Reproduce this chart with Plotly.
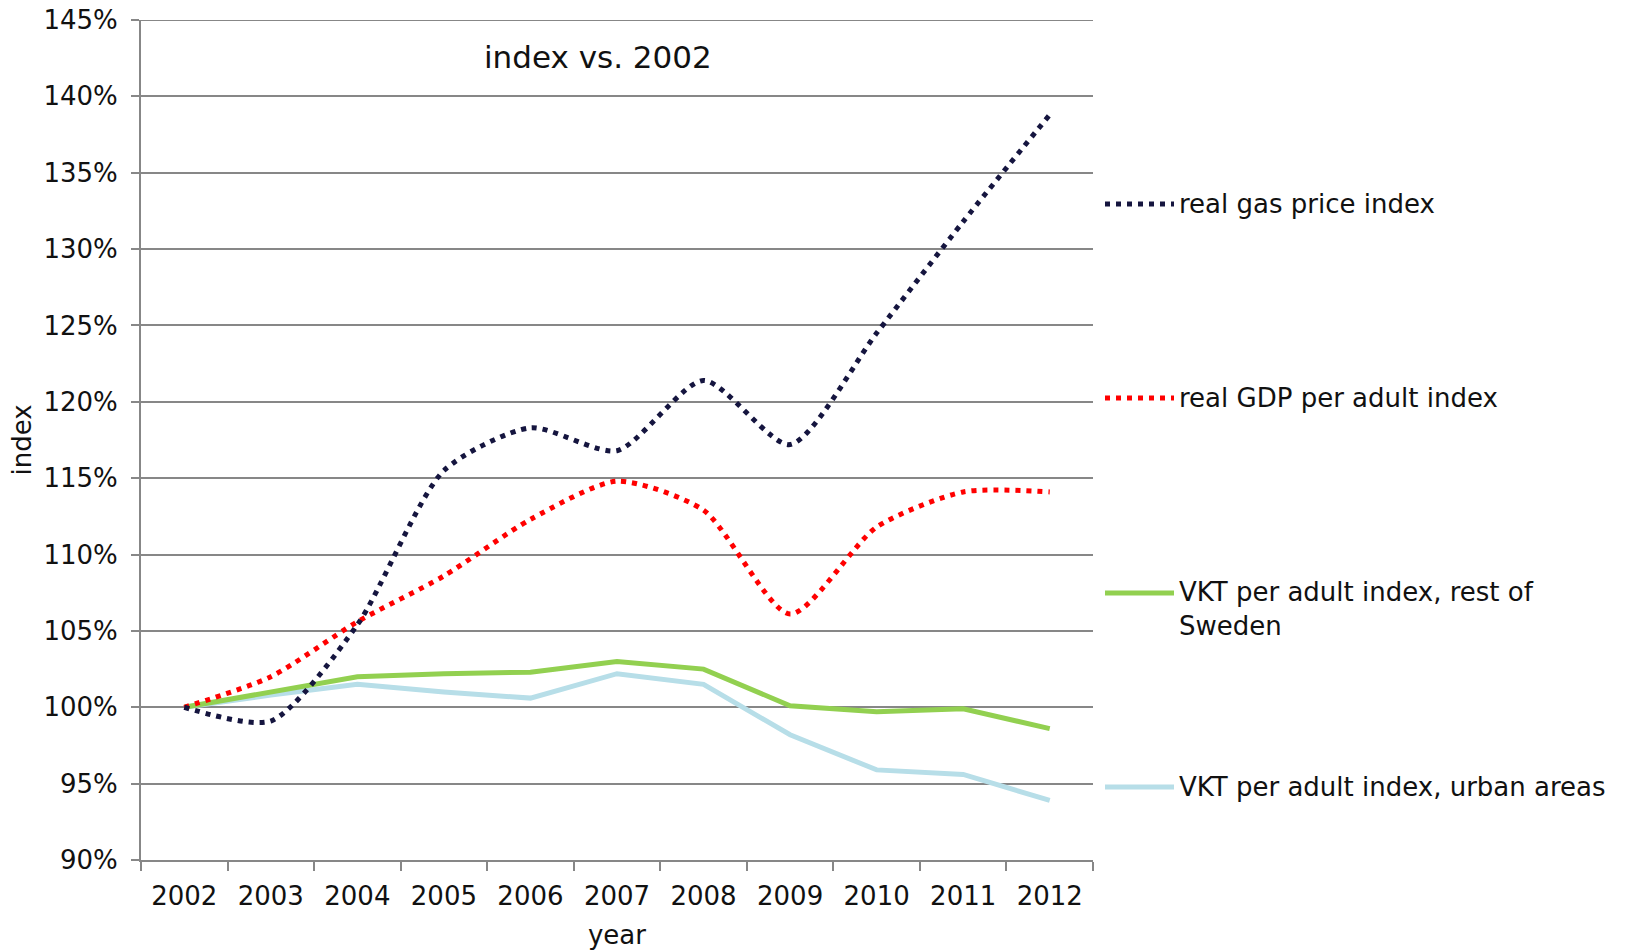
import plotly.graph_objects as go

# ---------------- data ----------------
years = ["2002", "2003", "2004", "2005", "2006", "2007", "2008", "2009", "2010", "2011", "2012"]
gas_price_index = [100.0, 99.1, 105.4, 115.5, 118.3, 116.8, 121.4, 117.2, 124.5, 131.8, 138.8]
gdp_per_adult_index = [100.0, 102.0, 105.6, 108.6, 112.3, 114.8, 112.9, 106.1, 111.8, 114.1, 114.1]
vkt_rest_of_sweden = [100.0, 101.0, 102.0, 102.2, 102.3, 103.0, 102.5, 100.1, 99.7, 99.9, 98.6]
vkt_urban_areas = [100.0, 100.8, 101.5, 101.0, 100.6, 102.2, 101.5, 98.2, 95.9, 95.6, 93.9]
y_ticks = [90, 95, 100, 105, 110, 115, 120, 125, 130, 135, 140, 145]
series_names = [
    "real gas price index",
    "real GDP per adult index",
    "VKT per adult index, rest of<br>Sweden",
    "VKT per adult index, urban areas",
]

# ---------------- styles ----------------
FONT = "DejaVu Sans"
TXT = "#111111"
NAVY = "#15153f"
RED = "#ff0000"
GREEN = "#92d050"
LIGHTBLUE = "#b7dee8"
GRID = "#878787"
DOT_DASH = "5px,6px"

OFF = 0  # page body margin is removed via post_script
W, H = 1632, 951
# plot area on the page: x 141..1093, y 20..860
L = 141 - OFF
T = 20 - OFF
R = W - (1093 - OFF)
B = H - (860 - OFF)

fig = go.Figure()

fig.add_trace(go.Scatter(
    x=years, y=vkt_urban_areas, mode="lines", name=series_names[3],
    line=dict(color=LIGHTBLUE, width=5), showlegend=False))
fig.add_trace(go.Scatter(
    x=years, y=vkt_rest_of_sweden, mode="lines", name=series_names[2],
    line=dict(color=GREEN, width=5), showlegend=False))
fig.add_trace(go.Scatter(
    x=years, y=gdp_per_adult_index, mode="lines", name=series_names[1],
    line=dict(color=RED, width=5, dash=DOT_DASH, shape="spline", smoothing=0.7),
    showlegend=False))
fig.add_trace(go.Scatter(
    x=years, y=gas_price_index, mode="lines", name=series_names[0],
    line=dict(color=NAVY, width=5, dash=DOT_DASH, shape="spline", smoothing=0.7),
    showlegend=False))

# top gridline (plotly omits the gridline at the range edge)
fig.add_shape(type="line", xref="paper", yref="y", x0=0, x1=1,
              y0=y_ticks[-1], y1=y_ticks[-1], layer="below",
              line=dict(color=GRID, width=2))

# ---------------- custom legend (right side) ----------------
plot_w = W - L - R
plot_h = H - T - B


def px_x(page_x):
    return (page_x - OFF - L) / plot_w


def px_y(page_y):
    return 1 - (page_y - OFF - T) / plot_h


legend_rows = [
    (series_names[0], NAVY, DOT_DASH, 204),
    (series_names[1], RED, DOT_DASH, 398),
    (series_names[2], GREEN, "solid", 593),
    (series_names[3], LIGHTBLUE, "solid", 787),
]
for name, color, dash, ypx in legend_rows:
    fig.add_shape(type="line", xref="paper", yref="paper",
                  x0=px_x(1105), x1=px_x(1174), y0=px_y(ypx), y1=px_y(ypx),
                  line=dict(color=color, width=5, dash=dash))
    two_lines = "<br>" in name
    fig.add_annotation(xref="paper", yref="paper", x=px_x(1177), y=px_y(ypx),
                       text=name, showarrow=False, xanchor="left",
                       yanchor="top" if two_lines else "middle",
                       yshift=18 if two_lines else 0,
                       align="left",
                       font=dict(family=FONT, size=26, color=TXT))

# chart title inside plot
fig.add_annotation(xref="paper", yref="paper", x=px_x(598), y=px_y(57),
                   text="index vs. 2002", showarrow=False,
                   xanchor="center", yanchor="middle",
                   font=dict(family=FONT, size=31, color=TXT))

fig.update_layout(
    width=W, height=H,
    margin=dict(l=L, r=R, t=T, b=B, autoexpand=False),
    paper_bgcolor="white", plot_bgcolor="white",
    font=dict(family=FONT, size=26, color=TXT),
    showlegend=False,
)

fig.update_xaxes(
    type="category", range=[-0.5, 10.5], tickson="boundaries",
    ticks="outside", ticklen=9, tickwidth=2, tickcolor=GRID,
    showline=True, linecolor=GRID, linewidth=2, showgrid=False,
    tickfont=dict(family=FONT, size=26, color=TXT), ticklabelstandoff=12,
    title=dict(text="year", font=dict(family=FONT, size=26, color=TXT), standoff=16),
    automargin=False,
)
fig.update_yaxes(
    range=[90, 145], tickvals=y_ticks, ticktext=[f"{v}%" for v in y_ticks],
    ticks="outside", ticklen=8, tickwidth=2, tickcolor=GRID,
    showline=True, linecolor=GRID, linewidth=2,
    showgrid=True, gridcolor=GRID, gridwidth=2, zeroline=False,
    tickfont=dict(family=FONT, size=26, color=TXT), ticklabelstandoff=8,
    ticklabeloverflow="allow",
    title=dict(text="index", font=dict(family=FONT, size=26, color=TXT), standoff=4),
    automargin=False,
)

fig.write_html(
    "out.html",
    config={"displayModeBar": False},
    post_script="document.body.style.margin='0px';document.body.style.overflow='hidden';",
)
